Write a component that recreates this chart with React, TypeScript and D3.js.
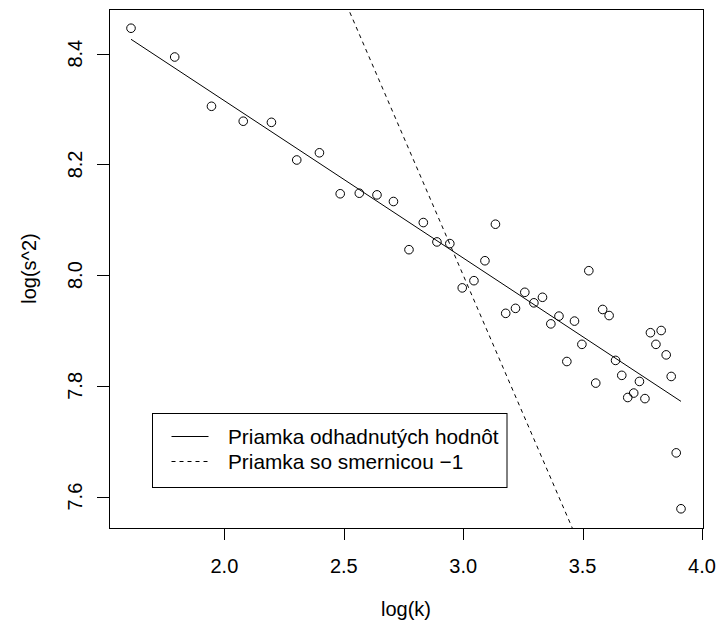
import React from "react";
import * as d3 from "d3";

// log(k) for k = 5..50
const logK: number[] = [
  1.609, 1.792, 1.946, 2.079, 2.197, 2.303, 2.398, 2.485, 2.565, 2.639,
  2.708, 2.773, 2.833, 2.890, 2.944, 2.996, 3.045, 3.091, 3.135, 3.178,
  3.219, 3.258, 3.296, 3.332, 3.367, 3.401, 3.434, 3.466, 3.497, 3.526,
  3.555, 3.584, 3.611, 3.638, 3.664, 3.689, 3.714, 3.738, 3.761, 3.784,
  3.807, 3.829, 3.850, 3.871, 3.892, 3.912,
];
// log(s^2)
const logS2: number[] = [
  8.446, 8.394, 8.305, 8.278, 8.276, 8.208, 8.221, 8.147, 8.148, 8.145,
  8.133, 8.046, 8.095, 8.060, 8.057, 7.977, 7.990, 8.026, 8.092, 7.931,
  7.940, 7.969, 7.950, 7.960, 7.912, 7.926, 7.844, 7.917, 7.875, 8.008,
  7.805, 7.938, 7.927, 7.846, 7.819, 7.779, 7.787, 7.808, 7.777, 7.896,
  7.875, 7.900, 7.856, 7.817, 7.679, 7.578,
];
const xTicks: number[] = [2.0, 2.5, 3.0, 3.5, 4.0];
const yTicks: number[] = [7.6, 7.8, 8.0, 8.2, 8.4];
// fitted regression line
const fitIntercept = 8.883;
const fitSlope = -0.284;
// reference line with slope -1
const refIntercept = 11;
const refSlope = -1;
const legendLabels: string[] = ["Priamka odhadnutých hodnôt", "Priamka so smernicou \u22121"];
const xLabel = "log(k)";
const yLabel = "log(s^2)";

const W = 719;
const H = 630;
const left = 109, right = 703, top = 9, bottom = 528;
const FONT = "'Liberation Sans', Arial, Helvetica, sans-serif";

function rDomain(v: number[]): [number, number] {
  const [a, b] = d3.extent(v) as [number, number];
  const e = (b - a) * 0.04;
  return [a - e, b + e];
}

export default function App() {
  const xd = rDomain(logK);
  const yd = rDomain(logS2);
  const x = d3.scaleLinear().domain(xd).range([left, right]);
  const y = d3.scaleLinear().domain(yd).range([bottom, top]);

  const line = d3.line<[number, number]>().x((d) => x(d[0])).y((d) => y(d[1]));
  const x0 = logK[0], x1 = logK[logK.length - 1];
  const fitPath = line([
    [x0, fitIntercept + fitSlope * x0],
    [x1, fitIntercept + fitSlope * x1],
  ]);
  const refPath = line([
    [xd[0], refIntercept + refSlope * xd[0]],
    [xd[1], refIntercept + refSlope * xd[1]],
  ]);

  const lg = { x0: 152.5, y0: 413.5, x1: 507, y1: 487.5 };

  return (
    <svg
      width={W}
      height={H}
      style={{ position: "absolute", left: 0, top: 0, background: "#fff" }}
      fontFamily={FONT}
    >
      <defs>
        <clipPath id="plotclip">
          <rect x={left} y={top} width={right - left} height={bottom - top} />
        </clipPath>
      </defs>
      <rect x={0} y={0} width={W} height={H} fill="#fff" />
      {/* box */}
      <rect x={left + 0.5} y={top + 0.5} width={right - left} height={bottom - top} fill="none" stroke="#000" strokeWidth={1} />
      {/* x axis */}
      <g>
        <line x1={x(xTicks[0])} x2={x(xTicks[xTicks.length - 1])} y1={bottom + 0.5} y2={bottom + 0.5} stroke="#000" />
        {xTicks.map((t) => (
          <g key={t}>
            <line x1={Math.round(x(t)) + 0.5} x2={Math.round(x(t)) + 0.5} y1={bottom} y2={bottom + 12} stroke="#000" />
            <text x={x(t)} y={573} fontSize={20} textAnchor="middle">{t.toFixed(1)}</text>
          </g>
        ))}
        <text x={(left + right) / 2} y={616} fontSize={20} textAnchor="middle">{xLabel}</text>
      </g>
      {/* y axis */}
      <g>
        <line x1={left + 0.5} x2={left + 0.5} y1={y(yTicks[0])} y2={y(yTicks[yTicks.length - 1])} stroke="#000" />
        {yTicks.map((t) => (
          <g key={t}>
            <line x1={left - 12} x2={left} y1={Math.round(y(t)) + 0.5} y2={Math.round(y(t)) + 0.5} stroke="#000" />
            <text transform={`translate(82,${y(t)}) rotate(-90)`} fontSize={20} textAnchor="middle">{t.toFixed(1)}</text>
          </g>
        ))}
        <text transform={`translate(36,${(top + bottom) / 2}) rotate(-90)`} fontSize={20} textAnchor="middle">{yLabel}</text>
      </g>
      {/* lines */}
      <g clipPath="url(#plotclip)">
        <path d={fitPath || ""} fill="none" stroke="#000" strokeWidth={1} />
        <path d={refPath || ""} fill="none" stroke="#000" strokeWidth={1} strokeDasharray="4,4" />
        {logK.map((v, i) => (
          <circle key={i} cx={x(v)} cy={y(logS2[i])} r={4.3} fill="none" stroke="#000" strokeWidth={1} />
        ))}
      </g>
      {/* legend */}
      <g>
        <rect x={lg.x0} y={lg.y0} width={lg.x1 - lg.x0} height={lg.y1 - lg.y0} fill="#fff" stroke="#000" />
        <line x1={171.5} x2={208.5} y1={436.5} y2={436.5} stroke="#000" />
        <line x1={171.5} x2={208.5} y1={461.5} y2={461.5} stroke="#000" strokeDasharray="4,4" />
        <text x={228} y={444} fontSize={20.8}>{legendLabels[0]}</text>
        <text x={228} y={469} fontSize={20.8}>{legendLabels[1]}</text>
      </g>
    </svg>
  );
}
